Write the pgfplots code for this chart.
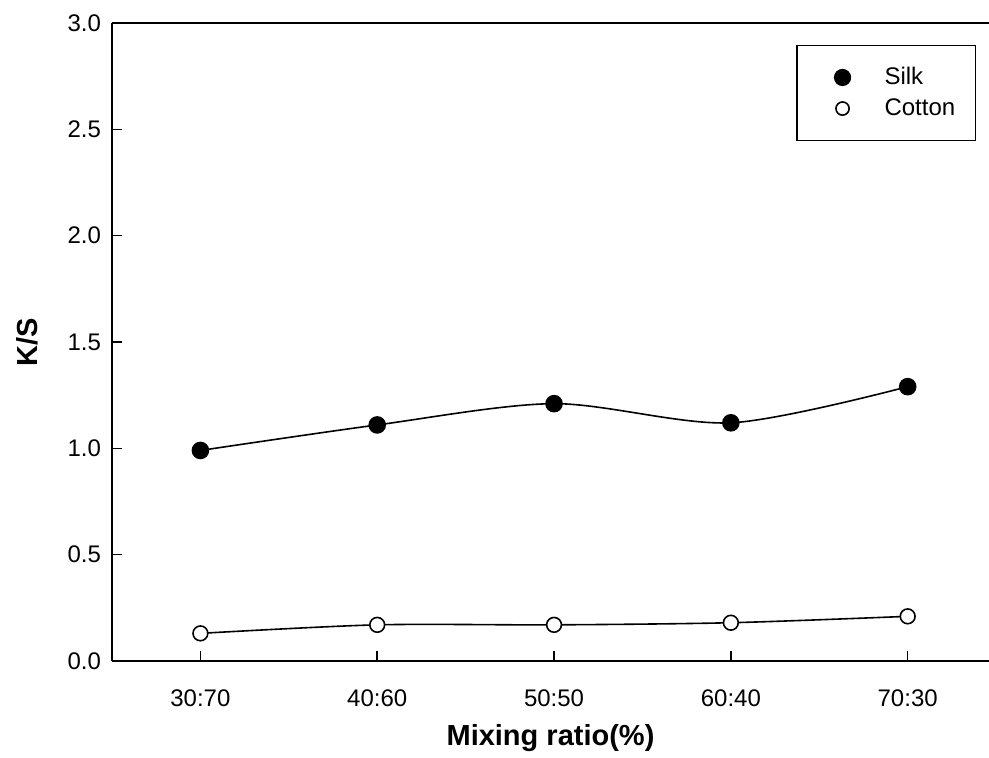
\documentclass[border=0pt]{standalone}
\usepackage{pgfplots}
\pgfplotsset{compat=1.18}
\usepackage{fontspec}
\setmainfont{Liberation Sans}
\setsansfont{Liberation Sans}

\begin{document}
\begin{tikzpicture}
\useasboundingbox (-56pt,-48.5pt) rectangle (438.5pt,330.5pt);
\begin{axis}[
    at={(0,0)}, anchor=south west,
    scale only axis,
    width=438.5pt, height=319pt,
    axis x line*=box, axis y line*=left,
    xmin=-0.5, xmax=4.46,
    ymin=0, ymax=3,
    xtick={0,1,2,3,4},
    xticklabels={30:70,40:60,50:50,60:40,70:30},
    ytick={0,0.5,1,1.5,2,2.5,3},
    /pgf/number format/.cd, fixed, fixed zerofill, precision=1, assume math mode=true,
    /pgfplots/.cd,
    tick align=inside,
    major tick length=5pt,
    xtick pos=bottom, ytick pos=left,
    tick style={black, line width=0.8pt},
    axis line style={line width=1pt},
    tick label style={font=\fontsize{12}{14}\selectfont},
    xticklabel style={anchor=base, yshift=-23pt},
    yticklabel style={xshift=-2pt},
    xlabel={\textbf{Mixing ratio(\%)}},
    ylabel={\textbf{K/S}},
    label style={font=\fontsize{14.5}{16}\selectfont},
    xlabel style={at={(axis description cs:0.5,-0.1332)}, anchor=base},
    ylabel style={at={(axis description cs:-0.0855,0.5)}, anchor=base, rotate=0},
    legend style={at={(rel axis cs:0.985,0.966)}, anchor=north east,
        draw=black, line width=0.6pt, font=\fontsize{12}{14}\selectfont,
        inner xsep=8pt, inner ysep=9pt, row sep=1.5pt, cells={anchor=west}},
    legend cell align=left,
    legend image code/.code={\path (-0.51cm,0); \draw[#1] plot coordinates {(0cm,0cm)};},
]
\addlegendimage{only marks, mark=*, mark size=4pt, mark options={fill=black, draw=black}}
\addlegendentry{\hspace{15pt}Silk}
\addlegendimage{only marks, mark=*, mark size=3.3pt, mark options={fill=white, draw=black, line width=0.8pt}}
\addlegendentry{\hspace{15pt}Cotton}

\addplot[forget plot, black, line width=0.8pt, smooth, tension=0.5, mark=*, mark size=4pt,
    mark options={fill=black}]
    coordinates {(0,0.99) (1,1.11) (2,1.21) (3,1.12) (4,1.29)};
\addplot[forget plot, black, line width=0.8pt, smooth, tension=0.5, mark=*, mark size=3.7pt,
    mark options={fill=white, line width=0.8pt}]
    coordinates {(0,0.13) (1,0.17) (2,0.17) (3,0.18) (4,0.21)};
\end{axis}
\end{tikzpicture}
\end{document}
